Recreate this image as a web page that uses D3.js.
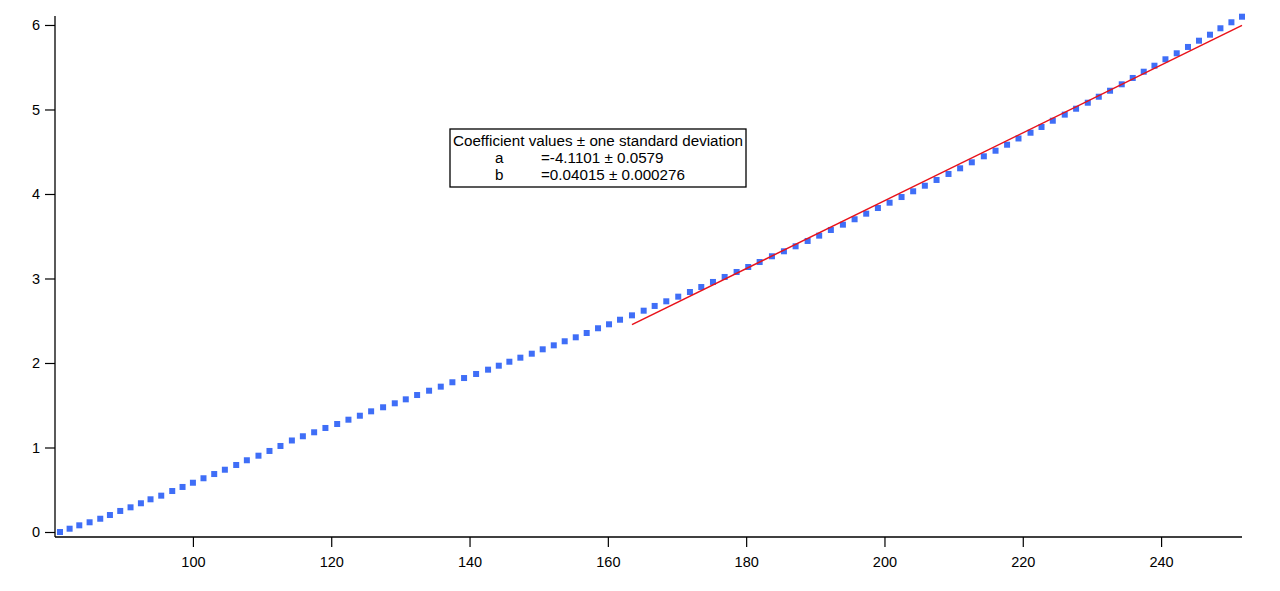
<!DOCTYPE html>
<html>
<head>
<meta charset="utf-8">
<script src="https://cdn.jsdelivr.net/npm/d3@7"></script>
<style>
  html, body { margin: 0; padding: 0; background: #fff; }
  svg { display: block; }
  text { font-family: "Liberation Sans", Arial, sans-serif; }
</style>
</head>
<body>
<svg id="chart" width="1280" height="591"></svg>
<script>
// ---- data ----
const xValues = [
  80.78, 82.17, 83.57, 85.06, 86.60, 88.00, 89.49, 90.98, 92.48, 93.87,
  95.42, 97.01, 98.50, 100.00, 101.53, 103.08, 104.62, 106.26, 107.80, 109.48,
  111.07, 112.66, 114.31, 115.90, 117.53, 119.16, 120.86, 122.49, 124.14, 125.77,
  127.50, 129.19, 130.78, 132.42, 134.15, 135.84, 137.52, 139.21, 140.95, 142.68,
  144.23, 145.76, 147.35, 149.00, 150.58, 152.18, 153.76, 155.36, 156.94, 158.58,
  160.17, 161.76, 163.49, 165.18, 166.77, 168.45, 170.18, 171.87, 173.51, 175.20,
  176.89, 178.62, 180.30, 181.95, 183.73, 185.46, 187.15, 188.89, 190.56, 192.25,
  193.99, 195.68, 197.36, 199.05, 200.74, 202.47, 204.15, 205.84, 207.53, 209.26,
  210.94, 212.63, 214.37, 216.06, 217.73, 219.38, 221.12, 222.71, 224.34, 226.07,
  227.71, 229.40, 230.99, 232.62, 234.31, 235.90, 237.49, 239.04, 240.63, 242.26,
  243.89, 245.48, 247.07, 248.58, 250.17, 251.70
];
const yValues = [
  0.000, 0.039, 0.079, 0.115, 0.157, 0.201, 0.249, 0.292, 0.340, 0.387,
  0.430, 0.485, 0.533, 0.583, 0.636, 0.686, 0.737, 0.793, 0.849, 0.903,
  0.959, 1.018, 1.083, 1.133, 1.180, 1.231, 1.278, 1.329, 1.376, 1.428,
  1.476, 1.523, 1.570, 1.621, 1.672, 1.720, 1.772, 1.822, 1.870, 1.921,
  1.968, 2.015, 2.063, 2.110, 2.162, 2.209, 2.257, 2.304, 2.355, 2.411,
  2.458, 2.512, 2.564, 2.619, 2.675, 2.730, 2.785, 2.840, 2.899, 2.959,
  3.018, 3.077, 3.136, 3.195, 3.263, 3.322, 3.381, 3.444, 3.507, 3.574,
  3.637, 3.701, 3.767, 3.834, 3.897, 3.964, 4.032, 4.098, 4.166, 4.237,
  4.304, 4.375, 4.446, 4.512, 4.583, 4.657, 4.725, 4.793, 4.867, 4.939,
  5.009, 5.080, 5.151, 5.222, 5.298, 5.373, 5.447, 5.518, 5.594, 5.665,
  5.740, 5.814, 5.885, 5.961, 6.032, 6.098
];
// fit: y = a + b*x over the fitted range
const fitA = -4.1101;
const fitB = 0.04015;
const fitRange = [163.49, 251.70];
const xTicks = [100, 120, 140, 160, 180, 200, 220, 240];
const yTicks = [0, 1, 2, 3, 4, 5, 6];
const legendLines = [
  ["Coefficient values \u00b1 one standard deviation", ""],
  ["a", "=-4.1101 \u00b1 0.0579"],
  ["b", "=0.04015 \u00b1 0.000276"]
];

// ---- layout ----
const svg = d3.select("#chart");
const plot = { left: 60, right: 1242, top: 16.7, bottom: 532 };
const standoff = 5;
const tickFont = 14.5;
const legendFont = 15.2;
const markerSize = 6;
const markerColor = "#3f6ef7";
const fitColor = "#e8121a";

const x = d3.scaleLinear().domain(d3.extent(xValues)).range([plot.left, plot.right]);
const y = d3.scaleLinear().domain([0, d3.max(yValues)]).range([plot.bottom, plot.top]);

const points = xValues.map((v, i) => ({ x: v, y: yValues[i] }));

// markers
svg.append("g").selectAll("rect").data(points).join("rect")
  .attr("x", d => x(d.x) - markerSize / 2)
  .attr("y", d => y(d.y) - markerSize / 2)
  .attr("width", markerSize)
  .attr("height", markerSize)
  .attr("fill", markerColor);

// fit line
const fitPts = fitRange.map(v => ({ x: v, y: fitA + fitB * v }));
svg.append("path")
  .datum(fitPts)
  .attr("d", d3.line().x(d => x(d.x)).y(d => y(d.y)))
  .attr("fill", "none")
  .attr("stroke", fitColor)
  .attr("stroke-width", 1.5);

// axes
const axisY = plot.bottom + standoff;
const axisX = plot.left - standoff;

const gx = svg.append("g")
  .attr("transform", `translate(0,${axisY})`)
  .call(d3.axisBottom(x).tickValues(xTicks).tickSize(10).tickPadding(10).tickFormat(d3.format("d")));
const gy = svg.append("g")
  .attr("transform", `translate(${axisX},0)`)
  .call(d3.axisLeft(y).tickValues(yTicks).tickSize(10).tickPadding(5).tickFormat(d3.format("d")));

[gx, gy].forEach(g => {
  g.select(".domain").remove();
  g.selectAll(".tick line").attr("stroke", "#000").attr("stroke-width", 1.2);
  g.selectAll(".tick text").attr("fill", "#000")
    .style("font-size", tickFont + "px")
    .style("font-family", "'Liberation Sans', Arial, sans-serif");
});

svg.append("line")
  .attr("x1", axisX).attr("x2", plot.right)
  .attr("y1", axisY).attr("y2", axisY)
  .attr("stroke", "#000").attr("stroke-width", 1.3);
svg.append("line")
  .attr("x1", axisX).attr("x2", axisX)
  .attr("y1", plot.top - 0.7).attr("y2", axisY)
  .attr("stroke", "#000").attr("stroke-width", 1.3);

// legend (coefficient box)
const box = { x: 450, y: 129, w: 296, h: 58 };
const lg = svg.append("g");
lg.append("rect")
  .attr("x", box.x).attr("y", box.y).attr("width", box.w).attr("height", box.h)
  .attr("fill", "#fff").attr("stroke", "#000").attr("stroke-width", 1.3);
const baselines = [146, 163, 180];
legendLines.forEach((ln, i) => {
  if (i === 0) {
    lg.append("text").attr("x", box.x + 3).attr("y", baselines[i])
      .style("font-size", legendFont + "px").attr("fill", "#000").text(ln[0]);
  } else {
    lg.append("text").attr("x", box.x + 45).attr("y", baselines[i])
      .style("font-size", legendFont + "px").attr("fill", "#000").text(ln[0]);
    lg.append("text").attr("x", box.x + 91).attr("y", baselines[i])
      .style("font-size", legendFont + "px").attr("fill", "#000").text(ln[1]);
  }
});
</script>
</body>
</html>
